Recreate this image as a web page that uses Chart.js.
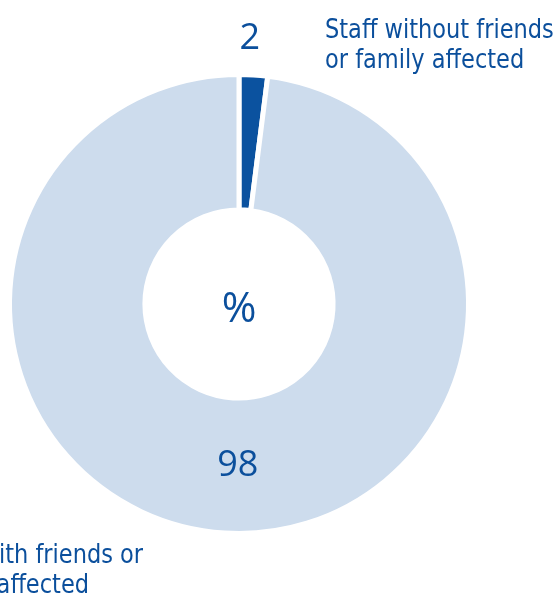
<!DOCTYPE html>
<html>
<head>
<meta charset="utf-8">
<script src="https://cdn.jsdelivr.net/npm/chart.js@4"></script>
<style>
  html, body { margin: 0; padding: 0; background: #fff; }
  #wrap { position: relative; width: 555px; height: 601px; }
</style>
</head>
<body>
<div id="wrap"><canvas id="chart" width="555" height="601"></canvas></div>
<script>
const categories = ['Staff without friends or family affected', 'Staff with friends or family affected']
const labelLines = [['Staff without friends', 'or family affected'], ['Staff with friends or', 'family affected']]
const values = [2, 98]
const colors = ['#0b529f', '#cddced']

const textBlue = '#0b4f9c'
const labelFont = '26px "Liberation Sans Narrow", "DejaVu Sans Condensed", sans-serif'
const numberFont = '36px "Open Sans", sans-serif'

// squeeze a caption a bit so it has the width of the original condensed face
function drawCaption(ctx, text, x, y) {
    ctx.save()
    ctx.translate(x, y)
    ctx.scale(0.962, 1)
    ctx.fillText(text, 0, 0)
    ctx.restore()
}

// draws the value labels, the % in the hole and the two category captions
const labelPlugin = {
    id: 'labels',
    afterDatasetsDraw(chart) {
        const ctx = chart.ctx
        const meta = chart.getDatasetMeta(0)
        ctx.save()
        ctx.fillStyle = textBlue
        ctx.textAlign = 'center'
        ctx.textBaseline = 'middle'
        ctx.font = numberFont

        meta.data.forEach((arc, i) => {
            const mid = (arc.startAngle + arc.endAngle) / 2
            let r
            if (i === 0) {
                r = arc.outerRadius + 36
            } else {
                r = (arc.outerRadius + arc.innerRadius) / 2
            }
            const x = arc.x + Math.cos(mid) * r + (i === 0 ? -6 : 9)
            const y = arc.y + Math.sin(mid) * r
            ctx.fillText(String(values[i]), x, y)
        })

        const c = meta.data[0]
        ctx.font = '42px "Open Sans", sans-serif'
        ctx.fillText('%', c.x, c.y + 6)

        ctx.textAlign = 'left'
        ctx.textBaseline = 'alphabetic'
        ctx.font = labelFont
        drawCaption(ctx, labelLines[0][0], 325, 38)
        drawCaption(ctx, labelLines[0][1], 325, 68)
        drawCaption(ctx, labelLines[1][0], -79, 563)
        drawCaption(ctx, labelLines[1][1], -80, 593)
        ctx.restore()
    }
}

new Chart(document.getElementById('chart'), {
    type: 'doughnut',
    data: {
        labels: categories,
        datasets: [{
            data: values,
            backgroundColor: colors,
            borderColor: '#ffffff',
            borderWidth: 5,
            hoverOffset: 0,
        }]
    },
    options: {
        responsive: false,
        animation: false,
        cutout: '41%',
        layout: {
            padding: {left: 7, right: 84, top: 72, bottom: 65}
        },
        plugins: {
            legend: {display: false},
            tooltip: {enabled: false},
        }
    },
    plugins: [labelPlugin]
})
</script>
</body>
</html>
